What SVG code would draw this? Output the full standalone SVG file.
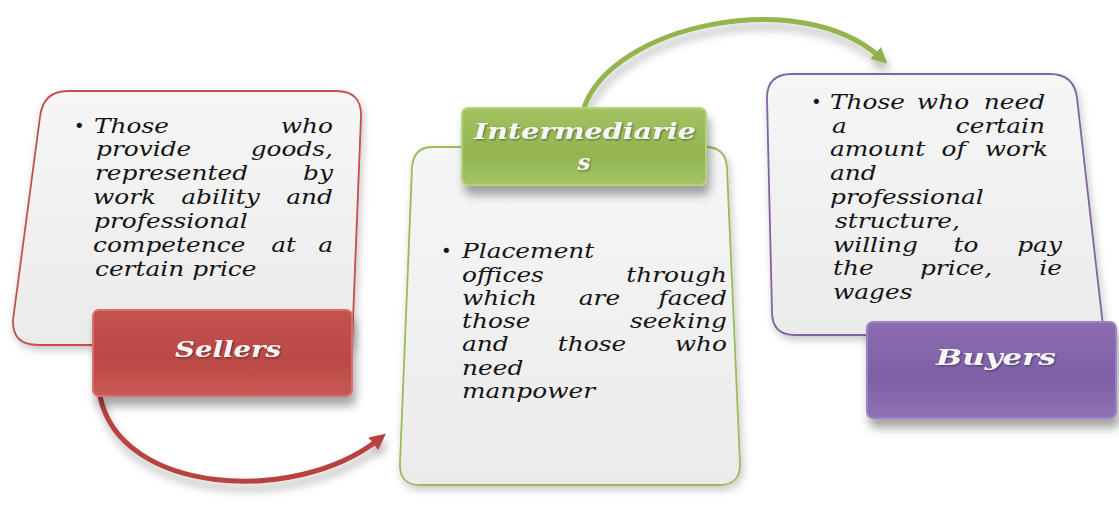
<svg xmlns="http://www.w3.org/2000/svg" width="1119" height="506" viewBox="0 0 1119 506">
  <defs>
    <style>
      .t { font-family: "DejaVu Serif", "Liberation Serif", serif; font-style: italic; font-size: 20px; fill: #141414; }
      .e { text-anchor: end; }
      .m { text-anchor: middle; }
      .bul { font-family: "DejaVu Sans", sans-serif; font-size: 18px; fill: #141414; }
      .lbl { font-family: "DejaVu Serif", "Liberation Serif", serif; font-style: italic; font-weight: bold; font-size: 23px; fill: #f6f6f6; }
      .card { fill: url(#cardFill); stroke-width: 1.8; }
    </style>
    <linearGradient id="cardFill" x1="0" y1="0" x2="0" y2="1">
      <stop offset="0" stop-color="#f6f6f6"/>
      <stop offset="1" stop-color="#ebebeb"/>
    </linearGradient>
    <linearGradient id="redBtn" x1="0" y1="0" x2="0" y2="1">
      <stop offset="0" stop-color="#c4524e"/>
      <stop offset="0.6" stop-color="#bb4944"/>
      <stop offset="1" stop-color="#c95b56"/>
    </linearGradient>
    <linearGradient id="greenBtn" x1="0" y1="0" x2="0" y2="1">
      <stop offset="0" stop-color="#a3c262"/>
      <stop offset="0.6" stop-color="#93b450"/>
      <stop offset="1" stop-color="#a4c566"/>
    </linearGradient>
    <linearGradient id="purpleBtn" x1="0" y1="0" x2="0" y2="1">
      <stop offset="0" stop-color="#8b6db0"/>
      <stop offset="0.6" stop-color="#7e5fa6"/>
      <stop offset="1" stop-color="#8e72b4"/>
    </linearGradient>
    <filter id="btnShadow" x="-10%" y="-20%" width="125%" height="160%">
      <feDropShadow dx="3" dy="9" stdDeviation="5" flood-color="#000" flood-opacity="0.35"/>
    </filter>
    <filter id="cardShadow" x="-10%" y="-10%" width="125%" height="125%">
      <feDropShadow dx="2" dy="4" stdDeviation="4" flood-color="#000" flood-opacity="0.22"/>
    </filter>
    <filter id="arcShadow" x="-20%" y="-40%" width="140%" height="190%">
      <feDropShadow dx="2" dy="7" stdDeviation="4" flood-color="#000" flood-opacity="0.3"/>
    </filter>
    <filter id="txtShadow" x="-5%" y="-20%" width="110%" height="150%">
      <feDropShadow dx="1" dy="1" stdDeviation="0.8" flood-color="#000" flood-opacity="0.45"/>
    </filter>
    <marker id="headRed" markerUnits="userSpaceOnUse" markerWidth="22" markerHeight="22" refX="6" refY="11" orient="auto">
      <path d="M0,3 L16,11 L0,19 Z" fill="#b8433f"/>
    </marker>
    <marker id="headGreen" markerUnits="userSpaceOnUse" markerWidth="22" markerHeight="22" refX="6" refY="11" orient="auto">
      <path d="M0,3 L16,11 L0,19 Z" fill="#8fb04c"/>
    </marker>
  </defs>

  <rect width="1119" height="506" fill="#ffffff"/>

  <!-- curved connectors -->
  <g id="connectors" filter="url(#arcShadow)">
    <path d="M 100,396 C 120,495 295,505 378,440" fill="none" stroke="#b8433f" stroke-width="5" stroke-linecap="round" marker-end="url(#headRed)"/>
    <path d="M 584,108 C 612,25 800,-15 880,57" fill="none" stroke="#93b450" stroke-width="5" stroke-linecap="round" marker-end="url(#headGreen)"/>
  </g>

  <!-- Sellers -->
  <g id="sellers">
    <path class="card" filter="url(#cardShadow)" stroke="#c0504d" d="M 68,91 L 336,91 Q 362,91 361,117 L 352,345 L 38,345 Q 12,345 13,320 L 40,117 Q 43,91 68,91 Z"/>
    <text class="bul" x="74" y="132">•</text>
    <g transform="matrix(1.243,0,0,1,-22.84,0)">
      <text class="t" x="94" y="133">Those</text>
      <text class="t e" x="286.3" y="133">who</text>
      <text class="t" x="95.6" y="156">provide</text>
      <text class="t e" x="286.3" y="156">goods,</text>
      <text class="t" x="94.8" y="180">represented</text>
      <text class="t e" x="286.3" y="180">by</text>
      <text class="t" x="93.2" y="204">work</text>
      <text class="t m" x="195.8" y="204">ability</text>
      <text class="t e" x="286.3" y="204">and</text>
      <text class="t" x="94" y="228">professional</text>
      <text class="t" x="93.2" y="252">competence</text>
      <text class="t m" x="246.5" y="252">at</text>
      <text class="t e" x="286.3" y="252">a</text>
      <text class="t" x="94.8" y="276">certain price</text>
    </g>
    <g filter="url(#btnShadow)">
      <rect x="93" y="310" width="259" height="86" rx="6" fill="url(#redBtn)" stroke="#d8716c" stroke-width="2"/>
    </g>
    <text class="lbl" x="228" y="357" text-anchor="middle" textLength="106" lengthAdjust="spacingAndGlyphs" filter="url(#txtShadow)">Sellers</text>
  </g>

  <!-- Intermediaries -->
  <g id="intermediaries">
    <path class="card" filter="url(#cardShadow)" stroke="#9bbb59" d="M 433,147 L 705,147 Q 726,147 727,168 L 740,463 Q 741,485 719,485 L 420,485 Q 399,485 400,463 L 412,168 Q 413,147 433,147 Z"/>
    <g filter="url(#btnShadow)">
      <rect x="462" y="108" width="244" height="77" rx="6" fill="url(#greenBtn)" stroke="#b3d37a" stroke-width="2"/>
    </g>
    <text class="lbl" x="585" y="139" text-anchor="middle" textLength="222" lengthAdjust="spacingAndGlyphs" filter="url(#txtShadow)">Intermediarie</text>
    <text class="lbl" x="584" y="170" text-anchor="middle" filter="url(#txtShadow)">s</text>
    <text class="bul" x="441" y="257">•</text>
    <g transform="matrix(1.243,0,0,1,-112.27,0)">
      <text class="t" x="462" y="258">Placement</text>
      <text class="t" x="462" y="282">offices</text>
      <text class="t e" x="675.2" y="282">through</text>
      <text class="t" x="462" y="305">which</text>
      <text class="t m" x="572.6" y="305">are</text>
      <text class="t e" x="675.2" y="305">faced</text>
      <text class="t" x="462" y="328">those</text>
      <text class="t e" x="675.2" y="328">seeking</text>
      <text class="t" x="462" y="351">and</text>
      <text class="t m" x="566.6" y="351">those</text>
      <text class="t e" x="675.2" y="351">who</text>
      <text class="t" x="462" y="375">need</text>
      <text class="t" x="462" y="398">manpower</text>
    </g>
  </g>

  <!-- Buyers -->
  <g id="buyers">
    <path class="card" filter="url(#cardShadow)" stroke="#8064a2" d="M 792,74 L 1050,74 Q 1074,74 1077,98 L 1104,335 L 795,335 Q 772,335 772,312 L 767,98 Q 767,74 792,74 Z"/>
    <text class="bul" x="811" y="108">•</text>
    <g transform="matrix(1.243,0,0,1,-201.69,0)">
      <text class="t" x="830" y="109">Those</text>
      <text class="t m" x="920.9" y="109">who</text>
      <text class="t e" x="1003" y="109">need</text>
      <text class="t" x="831.6" y="133">a</text>
      <text class="t e" x="1003" y="133">certain</text>
      <text class="t" x="830" y="156">amount</text>
      <text class="t m" x="929.4" y="156">of</text>
      <text class="t e" x="1005.4" y="156">work</text>
      <text class="t" x="830" y="180">and</text>
      <text class="t" x="830" y="204">professional</text>
      <text class="t" x="834" y="228">structure,</text>
      <text class="t" x="832.4" y="252">willing</text>
      <text class="t m" x="939.4" y="252">to</text>
      <text class="t e" x="1016.6" y="252">pay</text>
      <text class="t" x="832.4" y="275">the</text>
      <text class="t m" x="931.4" y="275">price,</text>
      <text class="t e" x="1016.6" y="275">ie</text>
      <text class="t" x="832.4" y="299">wages</text>
    </g>
    <g filter="url(#btnShadow)">
      <rect x="867" y="322" width="249" height="96" rx="6" fill="url(#purpleBtn)" stroke="#9d84c0" stroke-width="2"/>
    </g>
    <text class="lbl" x="996" y="365" text-anchor="middle" textLength="120" lengthAdjust="spacingAndGlyphs" filter="url(#txtShadow)">Buyers</text>
  </g>
</svg>
